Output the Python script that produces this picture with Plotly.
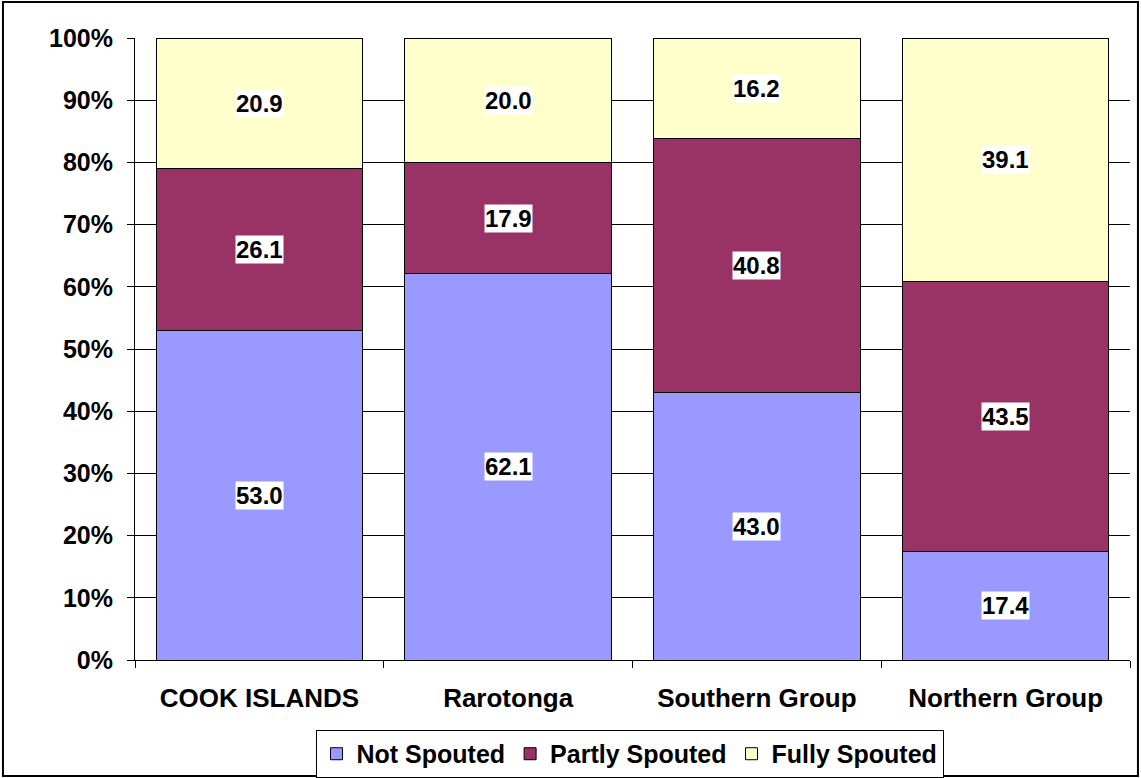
import plotly.graph_objects as go

categories = ["COOK ISLANDS", "Rarotonga", "Southern Group", "Northern Group"]
not_spouted = [53.0, 62.1, 43.0, 17.4]
partly_spouted = [26.1, 17.9, 40.8, 43.5]
fully_spouted = [20.9, 20.0, 16.2, 39.1]
series_names = ["Not Spouted", "Partly Spouted", "Fully Spouted"]
colors = ["#9999FF", "#993366", "#FFFFCC"]

FONT = "Liberation Sans, Arial, sans-serif"

fig = go.Figure()
all_series = [not_spouted, partly_spouted, fully_spouted]
for name, vals, col in zip(series_names, all_series, colors):
    fig.add_trace(go.Bar(
        x=categories, y=vals, name=name,
        marker=dict(color=col, line=dict(color="#000000", width=1)),
        hoverinfo="x+y+name",
    ))

# data labels with white background at segment midpoints
for i, cat in enumerate(categories):
    base = 0.0
    for vals in all_series:
        v = vals[i]
        fig.add_annotation(
            x=cat, y=base + v / 2, xref="x", yref="y",
            text=f"{v:.1f}", showarrow=False,
            bgcolor="white", borderpad=0,
            font=dict(family=FONT, size=24, color="black", weight="bold"),
        )
        base += v

# outer chart border
fig.add_shape(type="rect", xref="paper", yref="paper",
              x0=-0.1327, x1=1.008, y0=-0.1865, y1=1.058,
              line=dict(color="black", width=2), fillcolor="rgba(0,0,0,0)", layer="below")

fig.update_layout(
    width=1141, height=778,
    barmode="stack", bargap=0.17,
    margin=dict(l=135, r=11, t=38, b=118, autoexpand=False),
    paper_bgcolor="white", plot_bgcolor="white",
    font=dict(family=FONT, size=24, color="black"),
    showlegend=True,
    legend=dict(
        orientation="h", x=0.497, xanchor="center", y=-0.1125, yanchor="top",
        bordercolor="black", borderwidth=1, bgcolor="white",
        font=dict(family=FONT, size=25, color="black", weight="bold"),
        traceorder="normal", itemwidth=30,
    ),
    xaxis=dict(
        showline=True, linecolor="black", linewidth=1,
        ticks="outside", tickson="boundaries", ticklen=7, tickcolor="black",
        tickfont=dict(family=FONT, size=26, color="black", weight="bold"),
        ticklabelstandoff=15,
        showgrid=False, automargin=False,
    ),
    yaxis=dict(
        range=[0, 100], dtick=10, ticksuffix="%",
        showline=True, linecolor="black", linewidth=1,
        ticks="outside", ticklen=7, tickcolor="black",
        tickfont=dict(family=FONT, size=25, color="black", weight="bold"),
        ticklabelstandoff=9,
        showgrid=True, gridcolor="black", gridwidth=1,
        zeroline=False, automargin=False,
    ),
)

fig.write_html("out.html", config={"displayModeBar": False})

# remove the default page margin so the figure sits at the window's corner
with open("out.html", "r", encoding="utf-8") as f:
    html = f.read()
html = html.replace("<head>", "<head><style>html,body{margin:0;padding:0;overflow:hidden;}</style>", 1)
with open("out.html", "w", encoding="utf-8") as f:
    f.write(html)
